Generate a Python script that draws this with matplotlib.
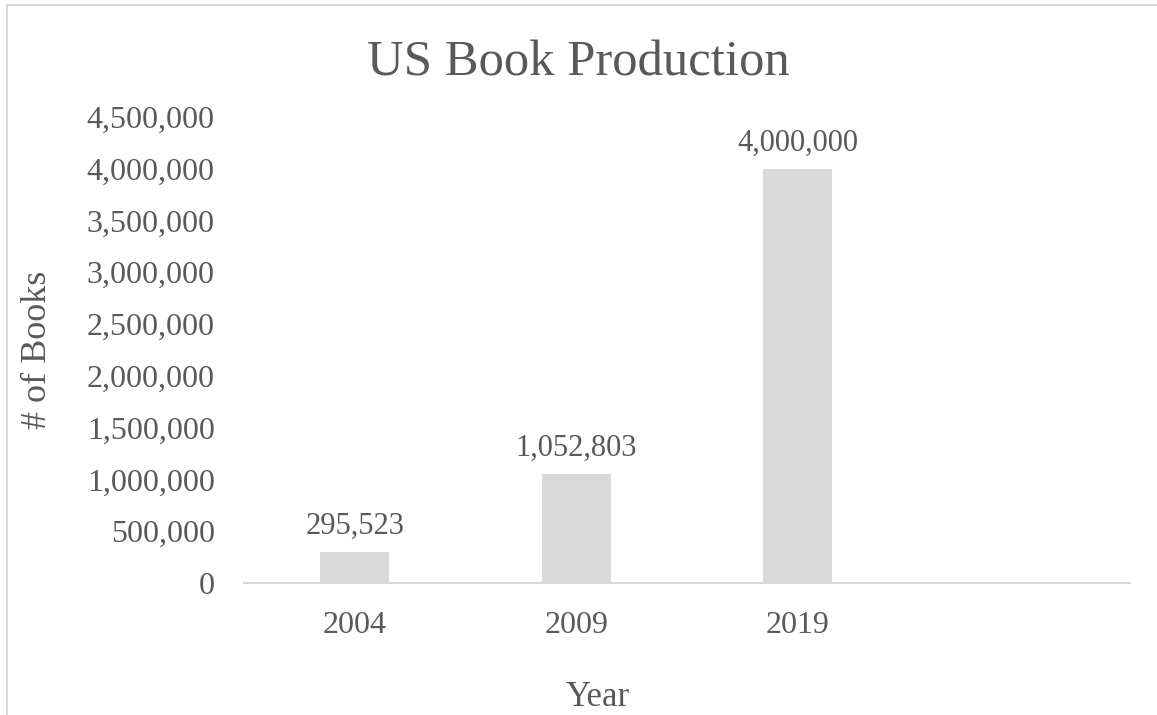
import matplotlib.pyplot as plt
from matplotlib.lines import Line2D
from matplotlib.ticker import FuncFormatter

# DATA
years = ["2004", "2009", "2019", ""]
books = [295523, 1052803, 4000000, None]
bar_labels = ["295,523", "1,052,803", "4,000,000"]

plt.rcParams['font.family'] = ['Liberation Serif', 'DejaVu Serif']
text_color = '#595959'
line_color = '#d9d9d9'

fig = plt.figure(figsize=(11.57, 7.15), dpi=100)
ax = fig.add_axes([0.2109, 0.1846, 0.7658, 0.6518])

x = list(range(len(years)))
vals = [v if v is not None else 0 for v in books]
bars = ax.bar(x, vals, width=0.31, color='#d9d9d9', zorder=2)

for rect, lab in zip(bars, bar_labels):
    ax.annotate(
        lab,
        (rect.get_x() + rect.get_width() / 2, rect.get_height()),
        xytext=(0, 8),
        textcoords='offset points',
        ha='center',
        va='bottom',
        fontsize=22,
        color=text_color
    )

ax.set_xlim(-0.5, len(years) - 0.5)
ax.set_ylim(0, 4500000)
ax.set_yticks(range(0, 4500001, 500000))
ax.yaxis.set_major_formatter(FuncFormatter(lambda v, p: f"{int(v):,}"))
ax.set_xticks(x)
ax.set_xticklabels(years)

ax.tick_params(axis='both', length=0, labelsize=23, labelcolor=text_color)
ax.tick_params(axis='x', pad=20)
ax.tick_params(axis='y', pad=21)

for side in ['top', 'right', 'left']:
    ax.spines[side].set_visible(False)
ax.spines['bottom'].set_color(line_color)
ax.spines['bottom'].set_linewidth(1.5)

# titles
fig.text(0.5, 0.911, "US Book Production", ha='center', va='center',
         fontsize=36.5, color=text_color)
fig.text(0.032, 0.51, "# of Books", ha='center', va='center', rotation=90,
         fontsize=26, color=text_color)
fig.text(0.517, 0.025, "Year", ha='center', va='center',
         fontsize=25, color=text_color)

# chart area border (partially cropped)
fig.add_artist(Line2D([0.006, 0.006], [0.0, 0.993], transform=fig.transFigure,
                      color=line_color, linewidth=1.5))
fig.add_artist(Line2D([0.006, 1.0], [0.993, 0.993], transform=fig.transFigure,
                      color=line_color, linewidth=1.5))

fig.savefig("out.png", dpi=100)
